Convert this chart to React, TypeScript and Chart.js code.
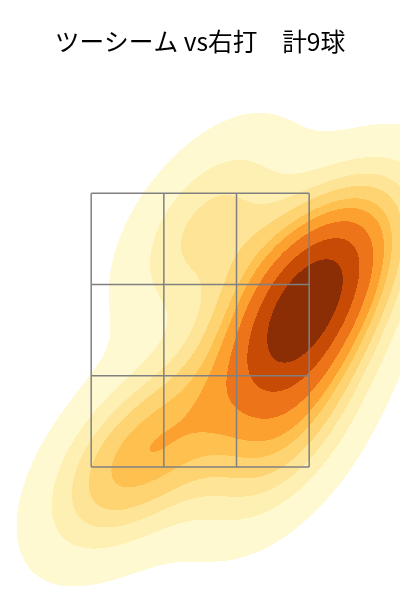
import React, { useEffect, useRef } from "react";
import { Chart, registerables } from "chart.js";

Chart.register(...registerables);

// ---- data ----
const TITLE = "ツーシーム vs右打　計9球";
// pitch locations (horizontal cm from plate centre, height cm)
const pitchX = [25.5, 32.4, 21.4, 29.6, 21.9, -23.5, 1.3, -8.3, 40.7];
const pitchY = [88.2, 81.6, 74.4, 68.9, 49.8, 46.1, 98.1, 49.6, 91.9];
// strike zone grid edges
const zoneX = [-30, -10, 10, 30];
const zoneY = [45, 65, 85, 105];
// axis limits
const xLimits = [-55.1, 55.0];
const yLimits = [15.85, 133.78];
// KDE bandwidth adjustment and iso-proportion levels (levels=10, thresh=0.05)
const bwAdjust = 1.05;
const isoProps = [0.05, 0.15556, 0.26111, 0.36667, 0.47222, 0.57778, 0.68333, 0.78889, 0.89444, 1.0];
const bandColors = [
  "#FFF9D2",
  "#FEF0B2",
  "#FEE496",
  "#FED372",
  "#FEC14F",
  "#FCA030",
  "#EE741A",
  "#C84B05",
  "#8B2E05",
];
const gridColor = "#808080";

function buildKde(xs: number[], ys: number[]) {
  const n = xs.length;
  const mx = xs.reduce((a, b) => a + b, 0) / n;
  const my = ys.reduce((a, b) => a + b, 0) / n;
  let sxx = 0, syy = 0, sxy = 0;
  for (let i = 0; i < n; i++) {
    const dx = xs[i] - mx, dy = ys[i] - my;
    sxx += dx * dx; syy += dy * dy; sxy += dx * dy;
  }
  sxx /= n - 1; syy /= n - 1; sxy /= n - 1;
  const fac = Math.pow(n, -1 / 6) * bwAdjust;
  const f2 = fac * fac;
  const a = sxx * f2, b = sxy * f2, d = syy * f2;
  const det = a * d - b * b;
  const ia = d / det, ib = -b / det, id = a / det;
  const norm = 1 / (n * 2 * Math.PI * Math.sqrt(det));
  const f = (x: number, y: number) => {
    let s = 0;
    for (let i = 0; i < n; i++) {
      const dx = x - xs[i], dy = y - ys[i];
      s += Math.exp(-0.5 * (ia * dx * dx + 2 * ib * dx * dy + id * dy * dy));
    }
    return s * norm;
  };
  return { f, bwx: Math.sqrt(a), bwy: Math.sqrt(d) };
}

function computeLevels(kde: ReturnType<typeof buildKde>, xs: number[], ys: number[]) {
  const G = 200, cut = 3;
  const x0 = Math.min(...xs) - cut * kde.bwx, x1 = Math.max(...xs) + cut * kde.bwx;
  const y0 = Math.min(...ys) - cut * kde.bwy, y1 = Math.max(...ys) + cut * kde.bwy;
  const vals: number[] = [];
  for (let j = 0; j < G; j++) {
    const y = y0 + ((y1 - y0) * j) / (G - 1);
    for (let i = 0; i < G; i++) {
      const x = x0 + ((x1 - x0) * i) / (G - 1);
      vals.push(kde.f(x, y));
    }
  }
  vals.sort((p, q) => q - p);
  const total = vals.reduce((a, b) => a + b, 0);
  const cum: number[] = [];
  let c = 0;
  for (const v of vals) { c += v; cum.push(c / total); }
  return isoProps.map((q) => {
    const t = 1 - q;
    let lo = 0, hi = cum.length;
    while (lo < hi) { const m = (lo + hi) >> 1; if (cum[m] < t) lo = m + 1; else hi = m; }
    return vals[Math.min(lo, vals.length - 1)];
  });
}

function hexToRgb(h: string) {
  return [parseInt(h.slice(1, 3), 16), parseInt(h.slice(3, 5), 16), parseInt(h.slice(5, 7), 16)];
}

export default function App() {
  const ref = useRef<HTMLCanvasElement | null>(null);
  useEffect(() => {
    if (!ref.current) return;
    const kde = buildKde(pitchX, pitchY);
    const levels = computeLevels(kde, pitchX, pitchY);
    const rgb = bandColors.map(hexToRgb);

    const kdePlugin = {
      id: "kdeFill",
      beforeDatasetsDraw(chart: any) {
        const { ctx, chartArea, scales } = chart;
        const left = Math.round(chartArea.left), top = Math.round(chartArea.top);
        const w = Math.round(chartArea.right) - left, h = Math.round(chartArea.bottom) - top;
        const img = ctx.createImageData(w, h);
        const xv = new Float64Array(w), yv = new Float64Array(h);
        for (let i = 0; i < w; i++) xv[i] = scales.x.getValueForPixel(left + i + 0.5);
        for (let j = 0; j < h; j++) yv[j] = scales.y.getValueForPixel(top + j + 0.5);
        const data = img.data;
        for (let j = 0; j < h; j++) {
          for (let i = 0; i < w; i++) {
            const v = kde.f(xv[i], yv[j]);
            let b = 0;
            for (let k = 0; k < levels.length - 1; k++) if (v >= levels[k]) b = k + 1;
            const p = (j * w + i) * 4;
            if (b > 0) {
              const c = rgb[b - 1];
              data[p] = c[0]; data[p + 1] = c[1]; data[p + 2] = c[2]; data[p + 3] = 255;
            } else {
              data[p] = 255; data[p + 1] = 255; data[p + 2] = 255; data[p + 3] = 255;
            }
          }
        }
        ctx.putImageData(img, left, top);
      },
    };

    const lineDs = (pts: { x: number; y: number }[]) => ({
      data: pts,
      showLine: true,
      pointRadius: 0,
      borderColor: gridColor,
      borderWidth: 1.5,
      fill: false,
    });
    const datasets: any[] = [];
    for (const x of zoneX) datasets.push(lineDs([{ x, y: zoneY[0] }, { x, y: zoneY[zoneY.length - 1] }]));
    for (const y of zoneY) datasets.push(lineDs([{ x: zoneX[0], y }, { x: zoneX[zoneX.length - 1], y }]));

    const chart = new Chart(ref.current, {
      type: "scatter",
      data: { datasets },
      options: {
        animation: false,
        responsive: false,
        devicePixelRatio: 1,
        layout: { padding: 0 },
        scales: {
          x: { type: "linear", min: xLimits[0], max: xLimits[1], display: false },
          y: { type: "linear", min: yLimits[0], max: yLimits[1], display: false },
        },
        plugins: {
          legend: { display: false },
          tooltip: { enabled: false },
          title: {
            display: true,
            text: TITLE,
            color: "#000000",
            font: { family: "'Noto Sans CJK JP', 'Noto Sans', sans-serif", size: 24.7, weight: "normal", lineHeight: 1 },
            padding: { top: 29.5, bottom: 7.8 },
          },
        },
      },
      plugins: [kdePlugin],
    });
    return () => chart.destroy();
  }, []);
  return (
    <div style={{ position: "absolute", left: 0, top: 0, width: 400, height: 600, background: "#fff" }}>
      <canvas ref={ref} width={400} height={600} />
    </div>
  );
}
